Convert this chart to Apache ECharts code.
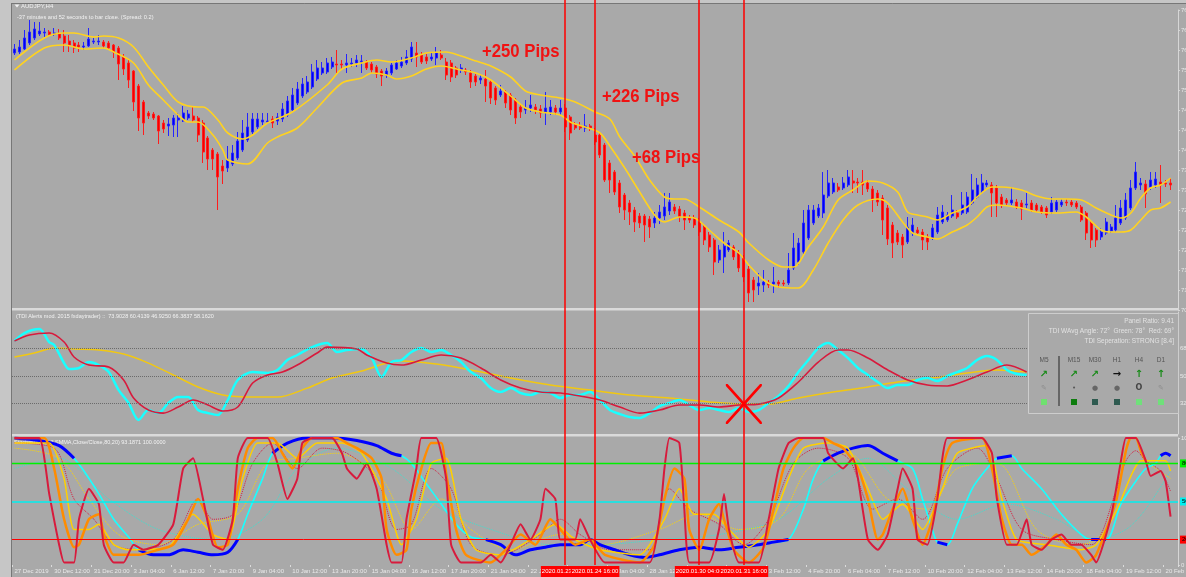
<!DOCTYPE html>
<html>
<head>
<meta charset="utf-8">
<title>AUDJPY,H4</title>
<script src="https://cdn.jsdelivr.net/npm/echarts@6/dist/echarts.min.js"></script>
<style>
  html, body { margin: 0; padding: 0; background: #c6c6c6; }
  #chart { width: 1186px; height: 577px; }
</style>
</head>
<body>
<div id="chart"></div>
<script>
// prices are in pips (1/100 yen), shown /100 on the price axis
const opens = [
  7594,7596,7602,7614,7624,7632,7634,7636,7632,7632,7628,7618,7614,7610,7606,7608,7616,7616,7616,7614,
  7610,7604,7586,7574,7558,7528,7496,7474,7472,7468,7454,7448,7450,7460,7458,7464,7468,7464,7454,7424,
  7400,7392,7368,7364,7372,7384,7400,7420,7436,7446,7456,7456,7462,7458,7462,7470,7480,7494,7508,7516,
  7526,7542,7554,7556,7566,7572,7572,7570,7572,7574,7576,7576,7572,7566,7558,7550,7554,7562,7568,7574,
  7582,7594,7590,7586,7582,7584,7590,7576,7574,7564,7560,7560,7554,7548,7540,7542,7536,7524,7510,7516,
  7510,7500,7486,7480,7484,7486,7482,7476,7476,7484,7476,7484,7466,7450,7448,7444,7448,7430,7430,7410,
  7374,7356,7334,7310,7294,7280,7268,7268,7262,7254,7264,7268,7278,7286,7282,7274,7264,7264,7256,7246,
  7230,7220,7180,7186,7200,7206,7194,7184,7162,7140,7128,7130,7134,7132,7136,7134,7134,7164,7176,7196,
  7224,7254,7268,7274,7308,7316,7326,7324,7330,7338,7336,7336,7334,7322,7314,7304,7284,7250,7234,7226,
  7216,7234,7240,7236,7226,7224,7236,7256,7260,7268,7274,7274,7276,7294,7306,7318,7330,7330,7324,7306,
  7300,7294,7296,7294,7290,7294,7290,7286,7284,7276,7280,7290,7296,7296,7294,7286,7274,7254,7240,7226,
  7234,7238,7240,7254,7264,7284,7324,7330,7332,7326,7330,7336,7334,7334
];
const closes = [
  7602,7606,7624,7636,7642,7638,7636,7630,7634,7624,7614,7610,7604,7606,7608,7622,7618,7618,7608,7604,
  7596,7572,7562,7540,7496,7464,7454,7468,7464,7438,7442,7452,7464,7464,7474,7472,7460,7430,7396,7382,
  7382,7346,7358,7380,7394,7418,7434,7446,7462,7462,7460,7458,7454,7466,7482,7498,7510,7522,7532,7536,
  7556,7564,7564,7574,7576,7570,7570,7574,7574,7580,7578,7564,7560,7552,7548,7558,7570,7574,7576,7586,
  7606,7586,7576,7578,7586,7594,7584,7550,7546,7550,7564,7556,7536,7536,7544,7528,7504,7500,7518,7494,
  7480,7464,7476,7484,7490,7480,7474,7484,7486,7476,7484,7446,7434,7444,7444,7448,7444,7416,7390,7340,
  7340,7316,7286,7280,7276,7256,7254,7250,7246,7264,7276,7286,7296,7278,7266,7260,7260,7250,7236,7220,
  7206,7176,7200,7208,7214,7186,7164,7146,7114,7120,7134,7136,7130,7136,7132,7132,7160,7204,7214,7254,
  7280,7280,7284,7310,7334,7334,7320,7334,7346,7334,7334,7330,7322,7300,7296,7260,7222,7214,7216,7210,
  7246,7250,7234,7220,7216,7244,7270,7276,7270,7280,7266,7290,7306,7320,7330,7334,7334,7314,7294,7290,
  7294,7300,7286,7282,7292,7280,7280,7276,7270,7294,7296,7296,7294,7290,7286,7260,7234,7220,7220,7236,
  7256,7246,7264,7284,7300,7324,7356,7334,7312,7340,7342,7330,7332,7330
];
const highs = [
  7612,7620,7640,7660,7656,7656,7644,7640,7644,7642,7640,7630,7620,7616,7616,7644,7624,7630,7620,7618,
  7612,7608,7592,7580,7560,7532,7500,7478,7476,7470,7460,7464,7470,7474,7488,7480,7486,7468,7460,7428,
  7404,7396,7380,7408,7410,7436,7460,7474,7474,7474,7474,7474,7468,7474,7494,7508,7524,7536,7544,7548,
  7572,7580,7576,7584,7586,7600,7580,7592,7584,7590,7590,7580,7576,7570,7562,7564,7574,7580,7586,7600,
  7616,7616,7596,7592,7594,7606,7600,7584,7580,7568,7572,7564,7560,7552,7552,7560,7540,7528,7530,7520,
  7514,7504,7492,7500,7510,7492,7490,7516,7500,7490,7500,7492,7470,7456,7456,7472,7452,7444,7434,7414,
  7380,7360,7340,7314,7300,7286,7274,7272,7268,7276,7290,7314,7314,7292,7288,7280,7270,7270,7264,7250,
  7236,7224,7210,7236,7220,7210,7200,7190,7168,7146,7154,7160,7140,7166,7140,7140,7194,7234,7224,7280,
  7290,7290,7292,7356,7360,7344,7334,7346,7360,7360,7344,7360,7340,7328,7320,7310,7290,7256,7240,7232,
  7266,7264,7246,7242,7232,7252,7286,7290,7276,7310,7280,7316,7316,7352,7344,7352,7340,7336,7330,7312,
  7304,7326,7302,7300,7314,7300,7294,7290,7288,7306,7300,7302,7302,7300,7298,7290,7278,7260,7244,7244,
  7264,7252,7290,7300,7314,7340,7376,7344,7340,7356,7356,7370,7340,7344
];
const lows = [
  7590,7592,7600,7610,7620,7628,7626,7628,7628,7620,7596,7596,7594,7596,7600,7606,7612,7610,7604,7600,
  7584,7540,7550,7524,7478,7438,7430,7462,7460,7412,7434,7428,7426,7426,7456,7460,7456,7416,7374,7360,
  7360,7280,7332,7356,7368,7380,7396,7416,7432,7442,7450,7452,7444,7450,7456,7466,7476,7490,7504,7512,
  7522,7538,7550,7552,7562,7554,7560,7554,7566,7566,7554,7560,7554,7544,7528,7544,7550,7560,7564,7570,
  7576,7566,7572,7572,7578,7570,7580,7540,7536,7544,7554,7550,7524,7528,7532,7496,7492,7490,7506,7484,
  7470,7452,7464,7472,7476,7472,7464,7450,7470,7470,7470,7436,7420,7440,7440,7436,7438,7410,7384,7336,
  7314,7310,7274,7260,7250,7236,7244,7216,7224,7244,7252,7260,7270,7272,7256,7240,7254,7244,7228,7210,
  7196,7150,7174,7154,7196,7180,7156,7136,7096,7096,7110,7116,7124,7114,7124,7128,7130,7160,7170,7192,
  7220,7250,7264,7264,7304,7312,7316,7320,7326,7314,7314,7310,7316,7276,7288,7230,7210,7184,7210,7184,
  7212,7228,7230,7200,7200,7220,7232,7252,7256,7264,7262,7270,7272,7290,7302,7314,7326,7266,7266,7284,
  7290,7290,7282,7260,7284,7276,7276,7272,7264,7272,7276,7286,7288,7286,7282,7256,7220,7204,7206,7220,
  7230,7234,7236,7250,7260,7280,7320,7320,7284,7320,7324,7294,7326,7320
];

// yellow channel around price, [bar, pips]
const upperBand = [
  [0,7580],[6,7624],[10,7634],[12,7634],[16,7626],[18,7628],[21,7624],[24,7606],[27,7566],[30,7530],
  [33,7496],[37,7486],[38,7486],[41,7460],[43,7434],[46,7422],[48,7430],[51,7454],[56,7476],[63,7530],
  [66,7562],[70,7574],[73,7580],[76,7576],[80,7584],[83,7594],[87,7596],[90,7588],[93,7578],[96,7568],
  [100,7546],[103,7518],[106,7510],[110,7504],[113,7496],[117,7476],[120,7462],[122,7426],[125,7388],[128,7340],
  [131,7306],[133,7302],[135,7302],[138,7286],[142,7260],[146,7236],[148,7214],[152,7180],[155,7166],[157,7166],
  [160,7206],[163,7246],[166,7300],[169,7320],[172,7338],[175,7334],[178,7316],[180,7276],[182,7270],[184,7266],
  [186,7260],[189,7274],[192,7286],[194,7306],[197,7326],[199,7326],[203,7320],[206,7308],[209,7302],[212,7302],
  [215,7300],[218,7284],[221,7270],[223,7264],[225,7274],[227,7304],[229,7324],[231,7330],[233,7344]
];
const lowerBand = [
  [0,7560],[6,7604],[10,7610],[14,7602],[18,7604],[20,7596],[24,7574],[27,7530],[30,7500],[33,7470],
  [35,7456],[37,7456],[40,7430],[42,7400],[43,7380],[47,7372],[51,7414],[53,7426],[57,7444],[61,7484],
  [66,7534],[70,7544],[72,7554],[75,7550],[77,7542],[80,7548],[83,7562],[86,7568],[90,7560],[93,7554],
  [96,7540],[100,7508],[103,7484],[106,7476],[110,7470],[112,7456],[115,7446],[118,7434],[120,7408],[123,7364],
  [126,7316],[129,7270],[131,7256],[134,7266],[137,7264],[140,7240],[143,7214],[146,7194],[148,7170],[151,7140],
  [154,7126],[158,7124],[161,7160],[164,7214],[167,7260],[170,7290],[174,7302],[176,7294],[179,7256],[181,7234],
  [184,7226],[186,7222],[189,7236],[192,7250],[194,7266],[196,7286],[198,7290],[203,7284],[206,7276],[210,7274],
  [214,7276],[216,7266],[219,7240],[221,7236],[223,7236],[225,7240],[227,7260],[229,7280],[231,7284],[233,7296]
];

// TDI panel
const tdiRsi = [
  [0,73.0],[2,78.2],[5,80.8],[7,72.3],[8,70.4],[10,58.5],[11,54.6],[13,55.3],[15,59.2],[17,57.2],
  [19,52.6],[21,40.8],[23,32.3],[25,21.2],[27,27.7],[29,25.7],[31,32.3],[33,36.2],[35,36.2],[37,27.7],
  [39,25.7],[41,24.4],[43,34.3],[45,47.4],[48,52.6],[51,52.0],[53,54.0],[55,60.5],[57,63.8],[60,69.0],
  [63,71.7],[65,65.8],[67,67.1],[70,67.7],[72,61.8],[74,49.4],[76,59.2],[78,60.5],[80,65.8],[82,68.4],
  [84,65.8],[86,67.1],[88,63.8],[90,59.2],[92,52.6],[94,48.7],[96,42.1],[98,39.5],[100,42.1],[102,38.9],
  [104,37.6],[106,39.5],[108,38.9],[110,35.6],[112,37.6],[114,37.6],[116,39.5],[118,34.3],[120,27.7],[122,25.1],
  [124,23.1],[126,22.5],[128,25.7],[130,30.3],[132,32.3],[134,34.3],[136,31.0],[138,27.7],[140,29.0],[142,27.7],
  [144,26.4],[146,29.0],[148,26.4],[150,27.7],[152,32.3],[154,36.9],[156,43.5],[158,52.6],[160,60.5],[162,68.4],
  [164,71.7],[166,67.1],[168,61.8],[170,55.3],[172,50.7],[174,46.1],[176,42.1],[178,44.1],[180,44.1],[182,47.4],
  [184,48.7],[186,46.7],[188,50.0],[190,52.6],[192,55.3],[194,60.5],[196,63.1],[198,60.5],[200,54.0],[202,51.3],
  [204,50.7]
];
const tdiSignal = [
  [0,73.0],[3,76.9],[7,78.2],[10,72.3],[12,62.5],[15,57.2],[19,55.9],[22,47.4],[24,35.6],[27,27.7],
  [30,25.7],[33,29.7],[36,34.3],[39,31.0],[42,27.1],[45,29.7],[48,45.4],[51,50.7],[54,52.6],[57,57.2],
  [61,65.1],[63,69.0],[69,67.7],[71,63.8],[75,58.5],[78,57.2],[82,60.5],[86,63.8],[90,61.8],[94,55.3],
  [98,47.4],[102,42.1],[106,39.5],[110,38.9],[114,36.9],[118,34.3],[122,29.7],[126,25.7],[130,27.7],[134,31.0],
  [138,31.0],[142,29.7],[146,31.0],[150,31.6],[154,35.6],[158,46.1],[162,59.2],[166,67.1],[168,67.1],[172,61.8],
  [176,54.0],[180,47.4],[184,44.1],[188,43.5],[192,47.4],[196,52.6],[200,57.2],[204,52.6]
];
const tdiBase = [
  [0,62.5],[4,65.1],[8,68.4],[12,67.7],[17,67.1],[22,64.4],[27,58.5],[32,50.7],[37,42.8],[42,37.6],
  [48,36.2],[53,36.2],[59,42.1],[64,48.7],[70,53.3],[75,58.5],[78,59.9],[85,57.9],[92,54.0],[100,48.7],
  [108,44.1],[116,40.8],[124,37.6],[132,35.6],[140,33.0],[147,31.6],[152,31.6],[158,35.6],[165,39.5],[172,42.8],
  [178,46.1],[185,48.7],[192,52.0],[198,54.0],[204,52.6]
];
const tdiLevels = [68, 50, 32];

// stochastic panel
const stochFast = [
  [0,100],[5,100],[7,56],[9,16],[10,2],[12,2],[13,36],[15,60],[17,48],[18,16],[20,2],[22,2],[24,16],[26,12],
  [29,16],[32,32],[34,76],[36,84],[38,52],[40,16],[42,12],[44,36],[45,84],[47,100],[51,100],[53,80],[55,52],
  [57,68],[58,96],[60,100],[64,100],[66,88],[67,76],[69,68],[71,80],[73,60],[75,16],[76,2],[78,2],[79,36],
  [81,76],[82,100],[85,100],[87,68],[88,16],[90,2],[94,2],[96,8],[98,2],[100,16],[102,32],[104,20],[106,36],
  [107,60],[109,52],[110,20],[113,20],[114,36],[116,20],[119,2],[128,2],[130,36],[131,76],[132,100],[134,96],
  [135,44],[136,2],[140,2],[142,28],[143,56],[144,28],[146,2],[150,2],[152,36],[154,76],[156,96],[158,100],
  [163,100],[164,88],[167,76],[169,84],[170,68],[172,20],[174,12],[176,24],[178,60],[179,76],[181,60],[182,20],
  [184,16],[186,52],[187,84],[188,100],[195,100],[197,88],[198,52],[200,16],[202,16],[204,36],[205,16],[207,12],
  [209,20],[211,24],[213,16],[215,16],[217,8],[218,2],[221,38],[223,82],[224,100],[226,100],[228,82],[229,70],
  [231,74],[232,66],[233,38]
];
const stochMain = [
  [0,100],[6,100],[8,76],[10,36],[12,14],[13,16],[15,36],[17,40],[18,24],[20,8],[22,8],[25,8],[29,12],[32,16],
  [35,36],[37,52],[39,36],[41,14],[43,16],[45,60],[47,92],[49,100],[52,100],[54,88],[56,76],[58,92],[60,100],
  [65,100],[67,96],[69,92],[72,84],[74,68],[75,28],[77,8],[79,12],[80,44],[82,76],[84,96],[86,96],[87,72],
  [89,28],[91,8],[96,2],[99,12],[102,24],[105,16],[108,36],[110,28],[113,16],[116,20],[119,8],[126,2],[129,16],
  [131,52],[133,76],[135,68],[136,28],[138,12],[140,36],[142,48],[143,36],[145,12],[148,2],[151,14],[153,44],
  [155,76],[157,92],[159,100],[163,100],[165,96],[167,92],[170,76],[172,52],[174,20],[175,24],[177,44],[179,60],
  [181,36],[183,16],[185,36],[187,76],[189,96],[195,100],[197,76],[199,36],[201,16],[203,16],[205,8],[208,16],
  [210,24],[212,16],[214,12],[216,2],[218,8],[222,50],[224,90],[225,100],[226,100],[227,90],[228,82]
];
const stochSignal = [
  [0,96],[7,96],[10,68],[12,28],[15,28],[17,32],[20,16],[23,12],[31,14],[36,40],[40,24],[43,20],[46,68],
  [49,96],[53,96],[57,84],[61,96],[66,96],[70,88],[75,52],[78,16],[81,36],[84,80],[87,84],[90,36],[93,12],
  [98,8],[104,20],[109,32],[113,20],[118,12],[126,8],[131,36],[134,60],[137,40],[141,40],[144,28],[148,14],
  [152,28],[156,68],[159,92],[164,96],[168,92],[172,60],[175,36],[179,48],[183,28],[187,60],[190,88],[196,94],
  [199,52],[202,20],[208,16],[215,12],[218,16],[222,42],[225,70],[227,82],[229,82],[232,82],[233,74]
];
const fastDotted = [
  [0,96],[8,92],[12,52],[16,36],[20,16],[25,12],[32,20],[37,52],[40,36],[44,40],[48,80],[52,96],[57,76],
  [62,92],[67,88],[73,68],[77,28],[80,32],[84,76],[88,60],[92,16],[98,8],[106,24],[110,36],[114,24],[120,12],
  [128,12],[132,60],[136,44],[142,32],[147,16],[152,36],[157,80],[162,92],[168,84],[173,44],[178,52],[183,36],
  [188,76],[194,92],[198,68],[203,28],[210,20],[217,16],[222,58],[224,82],[226,90],[228,82],[231,74],[233,58]
];
const signalDotted = [
  [0,92],[9,84],[15,52],[21,24],[29,16],[37,32],[45,40],[51,80],[57,84],[65,88],[74,68],[80,28],[86,52],
  [92,28],[100,12],[110,24],[118,16],[130,28],[138,40],[146,28],[154,36],[160,76],[168,88],[176,52],[184,44],
  [190,76],[198,80],[206,28],[214,16],[218,20],[222,42],[225,70],[227,82],[230,76],[233,68]
];
const slowDotted = [
  [0,76],[9,84],[19,52],[29,28],[41,20],[50,36],[57,76],[65,92],[76,76],[86,44],[96,28],[108,16],[118,16],
  [130,20],[142,24],[154,36],[164,68],[172,84],[180,60],[190,36],[200,48],[210,36],[218,20],[224,28],[228,44],
  [233,74]
];
const slowLine = [
  [0,100],[5,98],[9,94],[12,84],[14,74],[17,56],[20,36],[23,22],[25,12],[28,8],[31,8],[34,12],[37,10],[40,8],
  [43,10],[45,20],[47,40],[50,68],[52,88],[55,96],[59,100],[63,100],[65,100],[69,98],[73,94],[76,88],[78,86],
  [80,80],[83,64],[86,48],[89,32],[92,22],[95,20],[98,16],[101,8],[104,12],[107,14],[110,16],[114,16],[116,20],
  [118,16],[121,12],[124,8],[127,6],[130,8],[134,12],[138,14],[142,12],[146,14],[150,16],[153,18],[156,20],
  [159,44],[161,68],[163,82],[166,88],[169,92],[172,94],[175,88],[178,82],[181,76],[183,52],[185,28],[186,18],
  [188,16],[190,32],[193,60],[196,76],[198,84],[201,86],[203,76],[207,60],[211,40],[215,24],[217,20],[220,20],
  [223,48],[226,66],[228,76],[230,80],[231,86],[232,88],[233,86]
];
const stochLevels = [80, 50, 20];

// time axis
const barCount = 235;
const tickLabels = [
  '27 Dec 2019','30 Dec 12:00','31 Dec 20:00','3 Jan 04:00','6 Jan 12:00','7 Jan 20:00','9 Jan 04:00',
  '10 Jan 12:00','13 Jan 20:00','15 Jan 04:00','16 Jan 12:00','17 Jan 20:00','21 Jan 04:00','22 Jan 12:00',
  '23 Jan 20:00','27 Jan 04:00','28 Jan 12:00','29 Jan 20:00','31 Jan 04:00','3 Feb 12:00','4 Feb 20:00',
  '6 Feb 04:00','7 Feb 12:00','10 Feb 20:00','12 Feb 04:00','13 Feb 12:00','14 Feb 20:00','18 Feb 04:00',
  '19 Feb 12:00','20 Feb 20:00'
];
const signalBars = [111, 117, 138, 147];
const signalTimes = ['2020.01.23 16:00', '2020.01.24 16:00', '2020.01.30 04:00', '2020.01.31 16:00'];
const pipsNotes = ['+250 Pips', '+226 Pips', '+68 Pips'];

const FONT = '"Liberation Sans", Arial, sans-serif';
const categories = [];
for (let i = 0; i < barCount; i++) categories.push(String(i));
const candles = opens.map((o, i) => [o, closes[i], lows[i], highs[i]]);
// the slow line turns blue (and thicker) outside the 20/80 band
const slowExtreme = slowLine.map((p) => (p[1] > stochLevels[0] || p[1] < stochLevels[2] + 1) ? p : [p[0], null]);

const chart = echarts.init(document.getElementById('chart'));

function xAxisFor(gridIndex) {
  return {
    type: 'category', gridIndex: gridIndex, data: categories, boundaryGap: true,
    axisLine: { show: false }, axisTick: { show: false }, axisLabel: { show: false }, splitLine: { show: false }
  };
}
const xAxes = [xAxisFor(0), xAxisFor(1), xAxisFor(2), xAxisFor(3)];
xAxes[2].axisLabel = {
  show: true, interval: (i) => i % 8 === 0, align: 'left', margin: 3,
  fontSize: 6, fontFamily: FONT, color: '#e9e9e9',
  formatter: (v, i) => tickLabels[i / 8]
};
xAxes[2].axisTick = { show: true, interval: (i) => i % 8 === 0, length: 2, lineStyle: { color: '#dcdcdc' } };

function line(name, data, x, color, width, extra) {
  return Object.assign({
    name: name, type: 'line', data: data, xAxisIndex: x, yAxisIndex: x,
    showSymbol: false, symbol: 'none', smooth: 0.3, silent: true,
    lineStyle: { color: color, width: width }
  }, extra || {});
}

const markerLabel = { show: true, position: 'end', distance: 2, fontSize: 6, fontFamily: FONT, color: '#e9e9e9' };

const series = [
  {
    name: 'AUDJPY', type: 'candlestick', data: candles, xAxisIndex: 0, yAxisIndex: 0,
    barWidth: 2.5, silent: true,
    itemStyle: { color: '#0000f2', color0: '#f20000', borderColor: '#2424ff', borderColor0: '#ff1c1c', borderWidth: 1 }
  },
  line('upper', upperBand, 0, '#ffd21f', 1.6),
  line('lower', lowerBand, 0, '#ffd21f', 1.6),

  line('TDI base', tdiBase, 1, '#f2c811', 1.5, {
    markLine: {
      silent: true, symbol: ['none', 'none'], animation: false,
      lineStyle: { color: '#6b6b6b', type: 'dotted', width: 1 },
      label: Object.assign({}, markerLabel, { formatter: (p) => p.value.toFixed(2) }),
      data: tdiLevels.map((v) => ({ yAxis: v }))
    }
  }),
  line('TDI rsi', tdiRsi, 1, '#19ffff', 2.5),
  line('TDI signal', tdiSignal, 1, '#d81a3c', 1.6, {
    markPoint: {
      silent: true, animation: false,
      symbol: 'path://M0,0L2,0L20,18L38,0L40,0L40,2L22,20L40,38L40,40L38,40L20,22L2,40L0,40L0,38L18,20L0,2Z',
      symbolSize: [36, 40], itemStyle: { color: '#ff0000' }, label: { show: false },
      data: [{ coord: [147, 31.6] }]
    }
  }),

  line('slow dotted', slowDotted, 2, '#3fe0d0', 1, {
    lineStyle: { color: '#3fe0d0', width: 1, type: 'dotted' },
    markLine: {
      silent: true, symbol: ['none', 'none'], animation: false,
      label: Object.assign({}, markerLabel, { color: '#000', padding: [1, 2], formatter: (p) => p.value.toFixed(1) }),
      data: [
        { yAxis: stochLevels[0], lineStyle: { color: '#00f000', width: 1.3, type: 'solid' }, label: { backgroundColor: '#00f000' } },
        { yAxis: stochLevels[1], lineStyle: { color: '#00f0f0', width: 1.6, type: 'solid' }, label: { backgroundColor: '#00f0f0' } },
        { yAxis: stochLevels[2], lineStyle: { color: '#ff0000', width: 1, type: 'solid' }, label: { backgroundColor: '#ff0000' } }
      ]
    }
  }),
  line('signal dotted', signalDotted, 2, '#ffd700', 1, { lineStyle: { color: '#ffd700', width: 1, type: 'dotted' } }),
  line('fast dotted', fastDotted, 2, '#d81a3c', 1, { lineStyle: { color: '#d81a3c', width: 1, type: 'dotted' } }),
  line('slow', slowLine, 2, '#19ffff', 1.6),
  line('slow extreme', slowExtreme, 2, '#0000ff', 3),
  line('signal', stochSignal, 2, '#ffd000', 1.5, { smooth: 0.2 }),
  line('main', stochMain, 2, '#ff8c00', 2.5, { smooth: 0.2 }),
  line('fast', stochFast, 2, '#d81a3c', 2, { smooth: 0.15 }),

  {
    name: 'signals', type: 'line', data: [], xAxisIndex: 3, yAxisIndex: 3, silent: true,
    markLine: {
      silent: true, symbol: ['none', 'none'], animation: false,
      lineStyle: { color: '#ff0000', width: 1.5, type: 'solid' },
      label: {
        show: true, position: 'start', distance: 1, fontSize: 6, fontFamily: FONT,
        color: '#ffffff', backgroundColor: '#ff0000', padding: [2, 1, 3, 1]
      },
      data: signalBars.map((b, i) => ({ xAxis: b, label: { formatter: signalTimes[i] } }))
    }
  }
];

function txt(x, y, text, size, color, extra) {
  return Object.assign({
    type: 'text', x: x, y: y, z: 100,
    style: {
      text: text, fill: color, font: size + 'px ' + FONT,
      align: 'left', textAlign: 'left', verticalAlign: 'middle', textVerticalAlign: 'middle'
    }
  }, extra || {});
}
function pips(x, y, text) {
  return {
    type: 'text', x: x, y: y, z: 100, scaleX: 0.88,
    style: {
      text: text, fill: '#f01212', font: 'bold 19px ' + FONT,
      align: 'left', textAlign: 'left', verticalAlign: 'middle', textVerticalAlign: 'middle'
    }
  };
}
function centered(x, y, text, font, color) {
  return {
    type: 'text', x: x, y: y, z: 101,
    style: { text: text, fill: color, font: font, align: 'center', textAlign: 'center', verticalAlign: 'middle', textVerticalAlign: 'middle' }
  };
}
function rightText(x, y, text) {
  return {
    type: 'text', x: x, y: y, z: 101,
    style: { text: text, fill: '#e2e2e2', font: '6.5px ' + FONT, align: 'right', textAlign: 'right', verticalAlign: 'middle', textVerticalAlign: 'middle' }
  };
}

const panelCols = [1044, 1074, 1095, 1117, 1139, 1161];
const panelNames = ['M5', 'M15', 'M30', 'H1', 'H4', 'D1'];
const panelArrows = ['↗', '↗', '↗', '→', '↑', '↑'];
const arrowColors = ['#168a16', '#168a16', '#168a16', '#111111', '#168a16', '#168a16'];
const panelMarks = ['✎', '•', '●', '●', 'O', '✎'];
const markColors = ['#8d8d8d', '#5a5a5a', '#666666', '#666666', '#444444', '#8d8d8d'];
const squareColors = ['#6fe06f', '#0e7d0e', '#2e5a50', '#2e5a50', '#6fe07a', '#6fe07a'];

const graphic = [
  { type: 'rect', z: 0, shape: { x: 0, y: 0, width: 11, height: 577 }, style: { fill: '#c6c6c6' } },
  { type: 'rect', z: 0, shape: { x: 0, y: 0, width: 1186, height: 3 }, style: { fill: '#c6c6c6' } },
  { type: 'line', z: 0, shape: { x1: 11.5, y1: 3, x2: 11.5, y2: 577 }, style: { stroke: '#777', lineWidth: 1 } },
  { type: 'line', z: 0, shape: { x1: 11, y1: 3.5, x2: 1186, y2: 3.5 }, style: { stroke: '#777', lineWidth: 1 } },
  { type: 'rect', z: 0, shape: { x: 12, y: 308, width: 1166, height: 2.5 }, style: { fill: '#dadada' } },
  { type: 'rect', z: 0, shape: { x: 12, y: 434, width: 1166, height: 2.5 }, style: { fill: '#dadada' } },
  { type: 'polygon', z: 100, shape: { points: [[14.5, 4.5], [19.5, 4.5], [17, 7.5]] }, style: { fill: '#f2f2f2' } },
  txt(21, 6.5, 'AUDJPY,H4', 6, '#f2f2f2'),
  txt(17, 17, '-37 minutes and 52 seconds to bar close. (Spread: 0.2)', 5.6, '#f2f2f2'),
  txt(16, 316.5, '(TDI Alerts mod. 2015 fxdaytrader) ::  73.9028 60.4139 46.9250 66.3837 58.1620', 5.5, '#f2f2f2'),
  txt(14, 442, 'Stochastic(8,3,3,SMMA,Close/Close,80,20) 93.1871 100.0000', 5.5, '#f2f2f2', { z: 0 }),
  pips(482, 52, pipsNotes[0]),
  pips(602, 97, pipsNotes[1]),
  pips(632, 158, pipsNotes[2]),
  { type: 'rect', z: 100, shape: { x: 1028.5, y: 313.5, width: 150, height: 100 }, style: { fill: '#a9a9a9', stroke: '#cdcdcd', lineWidth: 1 } },
  rightText(1174, 321, 'Panel Ratio: 9.41'),
  rightText(1174, 331, 'TDI WAvg Angle: 72°  Green: 78°  Red: 69°'),
  rightText(1174, 341, 'TDI Seperation: STRONG [8.4]'),
  { type: 'line', z: 101, shape: { x1: 1059, y1: 356, x2: 1059, y2: 406 }, style: { stroke: '#515151', lineWidth: 1.5 } }
];
panelCols.forEach((cx, i) => {
  graphic.push(centered(cx, 360, panelNames[i], '6.5px ' + FONT, '#555555'));
  graphic.push(centered(cx, 374, panelArrows[i], 'bold 10px "DejaVu Sans", sans-serif', arrowColors[i]));
  graphic.push(centered(cx, 388, panelMarks[i], (i === 4 ? 'bold 8px ' : '7px ') + '"DejaVu Sans", sans-serif', markColors[i]));
  graphic.push({ type: 'rect', z: 101, shape: { x: cx - 3, y: 399, width: 6, height: 6 }, style: { fill: squareColors[i] } });
});

function gridAt(top, height) {
  return { left: 12, right: 8, top: top, height: height, containLabel: false, outerBoundsMode: 'none' };
}

chart.setOption({
  backgroundColor: '#a9a9a9',
  animation: false,
  textStyle: { fontFamily: FONT },
  grid: [gridAt(10, 300), gridAt(312, 122), gridAt(438, 127), gridAt(0, 565)],
  xAxis: xAxes,
  yAxis: [
    {
      type: 'value', gridIndex: 0, position: 'right', min: 7080, max: 7680, interval: 40,
      axisLine: { show: true, lineStyle: { color: '#d6d6d6' } },
      axisTick: { show: true, length: 2, lineStyle: { color: '#d6d6d6' } },
      axisLabel: { fontSize: 6, color: '#e9e9e9', margin: 3, formatter: (v) => (v / 100).toFixed(2) },
      splitLine: { show: false }
    },
    {
      type: 'value', gridIndex: 1, position: 'right', min: 12, max: 92,
      axisLine: { show: true, lineStyle: { color: '#d6d6d6' } },
      axisTick: { show: false }, axisLabel: { show: false }, splitLine: { show: false }
    },
    {
      type: 'value', gridIndex: 2, position: 'right', min: 0, max: 100, interval: 100,
      axisLine: { show: true, lineStyle: { color: '#d6d6d6' } },
      axisTick: { show: true, length: 2, lineStyle: { color: '#d6d6d6' } },
      axisLabel: { fontSize: 6, color: '#e9e9e9', margin: 3 },
      splitLine: { show: false }
    },
    { type: 'value', gridIndex: 3, min: 0, max: 1, show: false }
  ],
  series: series,
  graphic: graphic
});
</script>
</body>
</html>
